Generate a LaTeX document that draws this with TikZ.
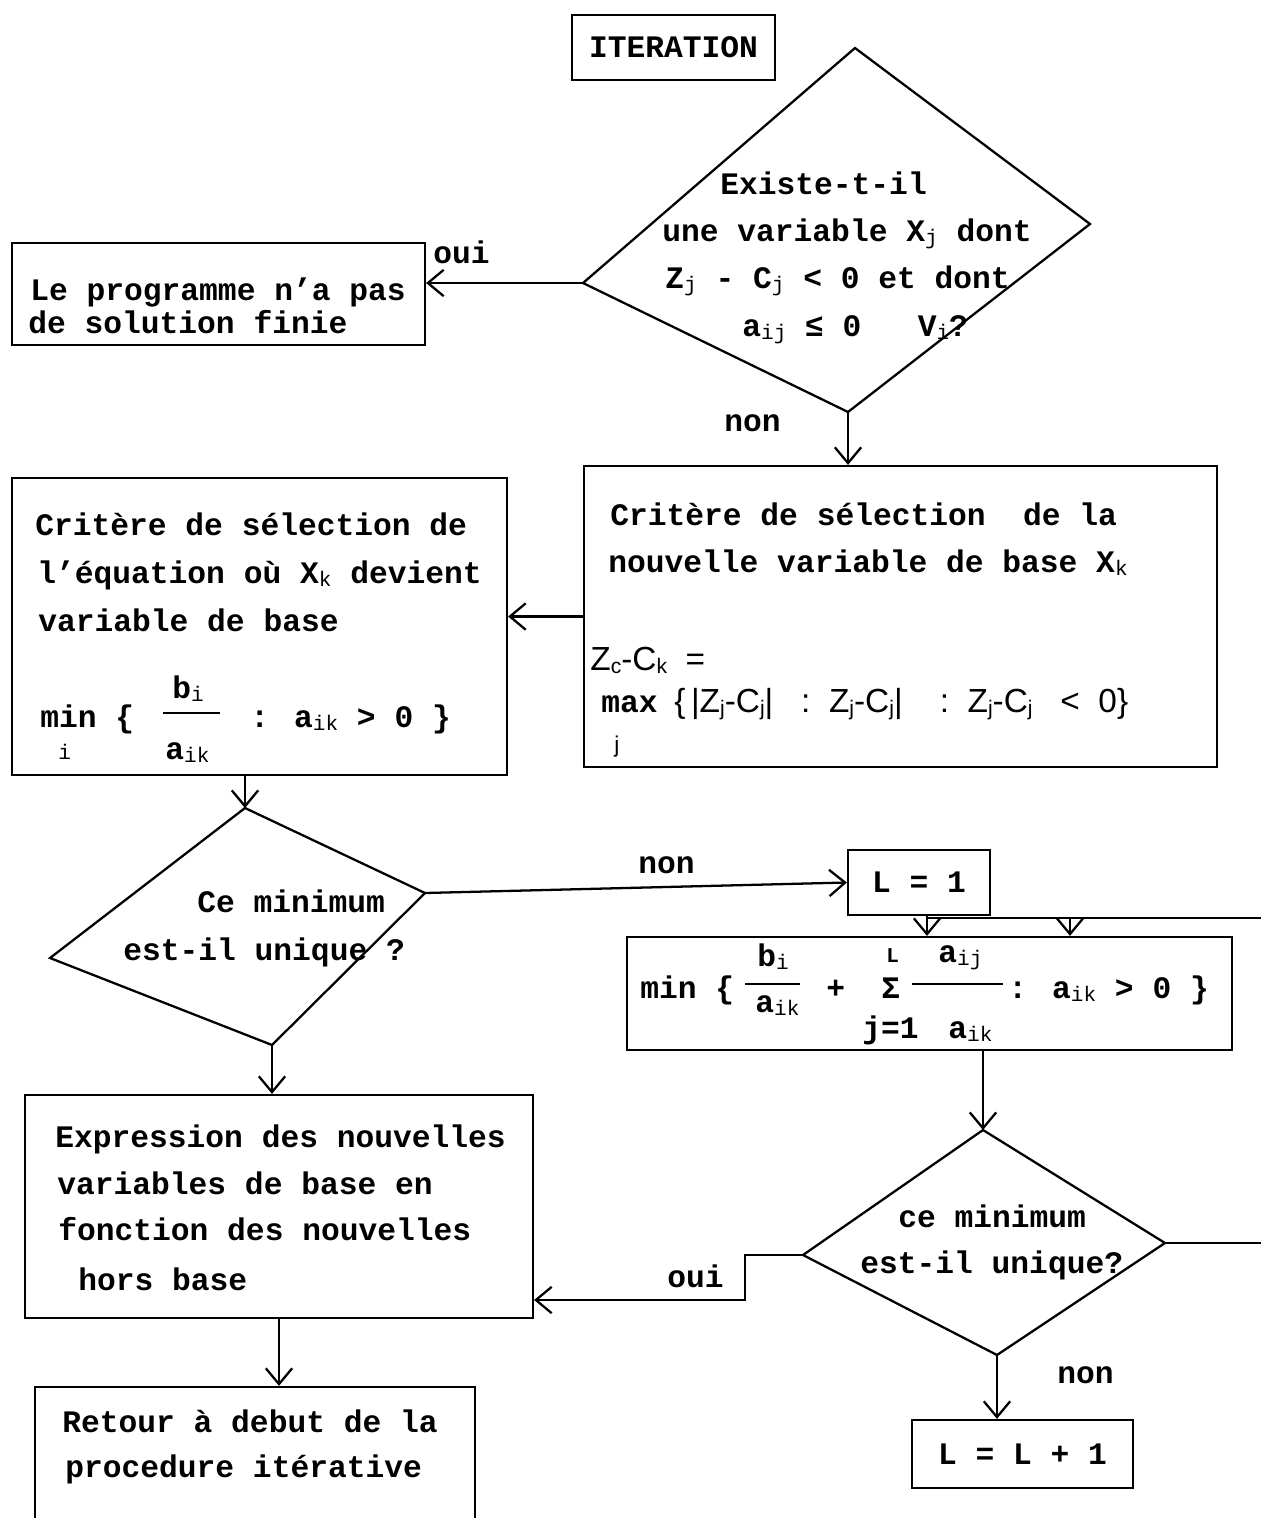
\documentclass[tikz,border=0pt]{standalone}
\usepackage{fontspec}
\setmainfont{Liberation Mono}
\newfontfamily\sansf{Liberation Sans}
\usetikzlibrary{arrows.meta}
\newcommand\subs[1]{{\fontsize{12}{12}\selectfont\mdseries\raisebox{-0.35ex}{#1}}}
\tikzset{
  x=0.02cm, y=-0.02cm,
  ln/.style={line width=1.3pt},
  arr/.style={line width=1.3pt, -{Straight Barb[length=9pt,width=15pt,line width=1.3pt]}},
  box/.style={draw, line width=1.3pt, rectangle, inner sep=0pt},
  txt/.style={anchor=base west, inner sep=0pt, font=\fontsize{17.8}{20}\selectfont\bfseries},
  small/.style={anchor=base west, inner sep=0pt, font=\fontsize{12}{14}\selectfont\bfseries},
  sans/.style={anchor=base west, inner sep=0pt, font=\fontsize{19}{21}\selectfont\sansf},
  shp/.style={draw, line width=1.3pt, line join=miter},
}
\begin{document}
\begin{tikzpicture}
\clip (0,0) rectangle (1261,1518);
\fill[white] (0,0) rectangle (1261,1518);

% boxes
\node[box, minimum width=4.06cm, minimum height=1.30cm, font=\fontsize{17.8}{20}\selectfont\bfseries] (iter) at (673.5,47.5) {ITERATION};
\node[box, minimum width=8.26cm, minimum height=2.04cm] (prog) at (218.5,294) {};
\node[box, minimum width=12.66cm, minimum height=6.02cm] (critR) at (900.5,616.5) {};
\node[box, minimum width=9.90cm, minimum height=5.94cm] (critL) at (259.5,626.5) {};
\node[box, minimum width=2.84cm, minimum height=1.30cm, font=\fontsize{17.8}{20}\selectfont\bfseries] (L1) at (919,882.5) {L = 1};
\node[box, minimum width=12.10cm, minimum height=2.26cm] (min2) at (929.5,993.5) {};
\node[box, minimum width=10.16cm, minimum height=4.46cm] (expr) at (279,1206.5) {};
\node[box, minimum width=4.42cm, minimum height=1.36cm, font=\fontsize{17.8}{20}\selectfont\bfseries] (LL1) at (1022.5,1454) {L = L + 1};
\node[box, minimum width=8.80cm, minimum height=3.06cm] (retour) at (255,1463.5) {};

% diamonds
\coordinate (d1t) at (855,48);  \coordinate (d1l) at (583,283);
\coordinate (d1r) at (1090,224); \coordinate (d1b) at (848,412);
\draw[shp] (d1t) -- (d1r) -- (d1b) -- (d1l) -- cycle;
\coordinate (d2t) at (245,808);  \coordinate (d2l) at (50,958);
\coordinate (d2r) at (425,893);  \coordinate (d2b) at (272,1045);
\draw[shp] (d2t) -- (d2r) -- (d2b) -- (d2l) -- cycle;
\coordinate (d3t) at (983,1130); \coordinate (d3l) at (803,1255);
\coordinate (d3r) at (1165,1243); \coordinate (d3b) at (997,1355);
\draw[shp] (d3t) -- (d3r) -- (d3b) -- (d3l) -- cycle;

% texts: top diamond
\node[txt] (t1a) at (720,194) {Existe-t-il};
\node[txt] (t1b) at (662,241) {une variable X\subs{j} dont};
\node[txt] (t1c) at (665,288) {Z\subs{j} - C\subs{j} < 0 et dont};
\node[txt] (t1d) at (742,336) {a\subs{ij} ≤ 0\ \ \ V\subs{i}?};

% prog box
\node[txt] (p1) at (30,300) {Le programme n'a pas};
\node[txt] (p2) at (28,333) {de solution finie};
\node[txt] (loui1) at (433,263) {oui};
\node[txt] (lnon1) at (724,431) {non};

% right criterion box
\node[txt] (r1) at (610,525) {Critère de sélection\ \ de la};
\node[txt] (r2) at (608,572) {nouvelle variable de base X\subs{k}};
\node[sans] (r3) at (590,670) {Z\subs{c}-C\subs{k}\ \ =};
\node[txt] (r4a) at (601,712) {max};
\node[sans] (r4b) at (674,712) {\{\,|Z\subs{j}-C\subs{j}|\ \ \ :\ \ Z\subs{j}-C\subs{j}|\ \ \ \ :\ \ Z\subs{j}-C\subs{j}\ \ \ <\ \ 0\}};
\node[sans, font=\fontsize{13}{14}\selectfont\sansf] (r5) at (614,752) {j};

% left criterion box
\node[txt] (l1) at (35,535) {Critère de sélection de};
\node[txt] (l2) at (37,583) {l'équation où X\subs{k} devient};
\node[txt] (l3) at (38,631) {variable de base};
\node[txt] (l4a) at (40,727) {min \{};
\node[txt] (l4b) at (172,698) {b\subs{i}};
\coordinate (fb1a) at (163,713); \coordinate (fb1b) at (220,713);
\draw[line width=1pt] (fb1a) -- (fb1b);
\node[txt] (l4c) at (165,759) {a\subs{ik}};
\node[txt] (l4d) at (250,727) {: a\subs{ik} > 0 \}};
\node[small, font=\fontsize{12}{14}\selectfont] (l4e) at (58,759) {i};

% diamond 2
\node[txt] (c1) at (197,912) {Ce minimum};
\node[txt] (c2) at (123,960) {est-il unique ?};
\node[txt] (lnon2) at (638,873) {non};

% min box 2
\node[txt] (m1) at (640,998) {min \{};
\node[txt] (m2) at (757,966) {b\subs{i}};
\coordinate (fb2a) at (745,984); \coordinate (fb2b) at (800,984);
\draw[line width=1pt] (fb2a) -- (fb2b);
\node[txt] (m3) at (755,1012) {a\subs{ik}};
\node[txt] (m4) at (826,998) {+};
\node[small] (m5) at (886,962) {L};
\node[txt] (m6) at (881,998) {Σ};
\node[txt] (m7) at (862,1038) {j=1};
\node[txt] (m8) at (938,962) {a\subs{ij}};
\coordinate (fb3a) at (912,984); \coordinate (fb3b) at (1003,984);
\draw[line width=1pt] (fb3a) -- (fb3b);
\node[txt] (m9) at (948,1038) {a\subs{ik}};
\node[txt] (m10) at (1008,998) {: a\subs{ik} > 0 \}};

% diamond 3
\node[txt] (e1) at (898,1227) {ce minimum};
\node[txt] (e2) at (860,1273) {est-il unique?};
\node[txt] (loui2) at (667,1287) {oui};
\node[txt] (lnon3) at (1057,1383) {non};

% expression box
\node[txt] (x1) at (55,1147) {Expression des nouvelles};
\node[txt] (x2) at (57,1194) {variables de base en};
\node[txt] (x3) at (58,1240) {fonction des nouvelles};
\node[txt] (x4) at (78,1290) {hors base};

% retour box
\node[txt] (y1) at (62,1432) {Retour à debut de la};
\node[txt] (y2) at (65,1477) {procedure itérative};

% connectors
\coordinate (redge1) at (1261,918);
\coordinate (j0) at (927,918);
\coordinate (j1) at (1070,918);
\coordinate (redge2) at (1261,1243);
\coordinate (stp) at (745,1300);

\draw[arr] (d1l) -- (d1l -| prog.east);
\draw[arr] (d1b) -- (d1b |- critR.north);
\draw[arr] (critR.west) -- (critR.west -| critL.east);
\draw[arr] (d2t |- critL.south) -- (d2t);
\draw[arr] (d2r) -- (L1.west);
\draw[arr] (j0 |- L1.south) -- (j0 |- min2.north);
\draw[ln] (redge1) -- (j0);
\draw[arr] (j1) -- (j1 |- min2.north);
\draw[arr] (d3t |- min2.south) -- (d3t);
\draw[ln] (d3r) -- (redge2);
\draw[arr] (d3l) -- (stp |- d3l) -- (stp) -- (stp -| expr.east);
\draw[arr] (d3b) -- (d3b |- LL1.north);
\draw[arr] (d2b) -- (d2b |- expr.north);
\draw[arr] (expr.south) -- (expr.south |- retour.north);
\end{tikzpicture}
\end{document}
